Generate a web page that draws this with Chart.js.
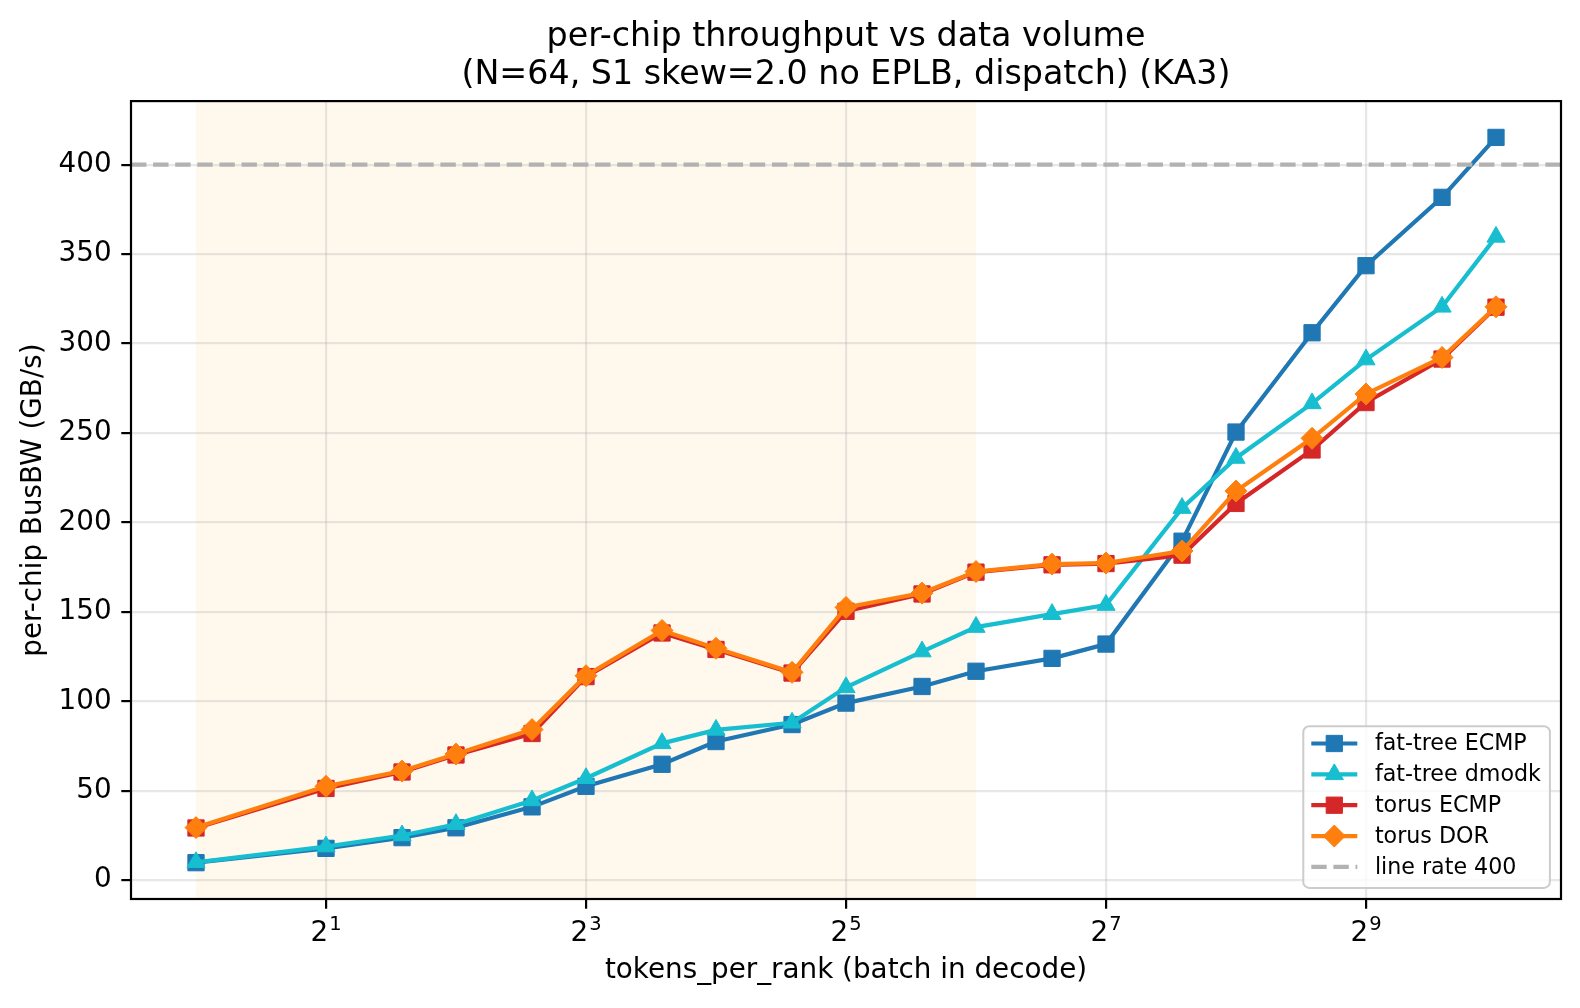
<!DOCTYPE html>
<html>
<head>
<meta charset="utf-8">
<script src="https://cdn.jsdelivr.net/npm/chart.js@4.4.0/dist/chart.umd.min.js"></script>
<style>
  html, body { margin: 0; padding: 0; background: #fff; }
  #wrap { width: 1580px; height: 1008px; }
</style>
</head>
<body>
<div id="wrap"><canvas id="throughputChart" width="1580" height="1008"></canvas></div>
<script>
// values
const tokensPerRank = [1, 2, 3, 4, 6, 8, 12, 16, 24, 32, 48, 64, 96, 128, 192, 256, 384, 512, 768, 1024];
const fatTreeEcmp = [9.8, 17.8, 23.8, 29.3, 41, 52.5, 64.8, 77.5, 87, 99, 108.3, 116.8, 124, 132, 189.5, 250.5, 306, 343.5, 381.7, 415.2];
const fatTreeDmodk = [10, 18.8, 25, 31.3, 44.6, 57, 76.5, 84, 88, 107.8, 127.8, 141.5, 148.7, 153.8, 208, 236, 266.5, 291, 320.5, 359.6];
const torusEcmp = [29.2, 51.3, 60.5, 70, 82, 113.8, 138.2, 129, 115.8, 150.3, 160, 172.2, 176.3, 177, 181.7, 210.6, 240.5, 267, 291.3, 320.3];
const torusDor = [29.4, 52.5, 61, 70.5, 84.2, 114.3, 139.6, 129.6, 116.2, 152.5, 160.5, 172.5, 176.7, 177.3, 184, 217.5, 247, 271.8, 292.2, 320.5];
const lineRate = 400;
const xTickPowers = [1, 3, 5, 7, 9];
const yTicks = [0, 50, 100, 150, 200, 250, 300, 350, 400];
const shadeRange = [1, 64];

const xMin = Math.pow(2, -0.5);
const xMax = Math.pow(2, 10.5);

const pts = (ys) => tokensPerRank.map((t, i) => ({ x: t, y: ys[i] }));

Chart.defaults.font.family = "'DejaVu Sans', sans-serif";
Chart.defaults.color = '#000';

const series = (label, color, ys, style, radius, order) => ({
    label: label,
    data: pts(ys),
    borderColor: color,
    backgroundColor: color,
    pointBackgroundColor: color,
    pointBorderColor: color,
    pointBorderWidth: 1,
    pointStyle: style,
    pointRadius: radius,
    borderWidth: 4.2,
    tension: 0,
    order: order
});

const datasets = [
    series('fat-tree ECMP', '#1f77b4', fatTreeEcmp, 'rect', 11.5, 3),
    series('fat-tree dmodk', '#17becf', fatTreeDmodk, 'triangle', 10.5, 2),
    series('torus ECMP', '#d62728', torusEcmp, 'rect', 11.5, 1),
    series('torus DOR', '#ff7f0e', torusDor, 'rectRot', 11, 0),
    {
        label: 'line rate ' + lineRate,
        data: [{ x: xMin, y: lineRate }, { x: xMax, y: lineRate }],
        borderColor: '#b2b2b2',
        borderWidth: 4.2,
        borderDash: [15.4, 6.7],
        pointRadius: 0,
        order: -1
    }
];

// shaded span behind the grid
const shadePlugin = {
    id: 'shade',
    beforeDraw(chart) {
        const { ctx, chartArea } = chart;
        const x = chart.scales.x;
        const x0 = x.getPixelForValue(shadeRange[0]);
        const x1 = x.getPixelForValue(shadeRange[1]);
        ctx.save();
        ctx.fillStyle = 'rgba(255, 165, 0, 0.07)';
        ctx.fillRect(x0, chartArea.top, x1 - x0, chartArea.bottom - chartArea.top);
        ctx.restore();
    }
};

// x tick labels as 2 with a raised exponent (like mathtext)
const powerLabelPlugin = {
    id: 'powerLabels',
    afterDraw(chart) {
        const { ctx, chartArea } = chart;
        const x = chart.scales.x;
        ctx.save();
        ctx.fillStyle = '#000';
        ctx.textBaseline = 'alphabetic';
        ctx.textAlign = 'left';
        x.ticks.forEach((t) => {
            const px = x.getPixelForValue(t.value);
            const exp = String(Math.round(Math.log2(t.value)));
            ctx.font = "27.8px 'DejaVu Sans'";
            const wBase = ctx.measureText('2').width;
            ctx.font = "19.5px 'DejaVu Sans'";
            const wExp = ctx.measureText(exp).width;
            const x0 = px - (wBase + 1 + wExp) / 2;
            ctx.font = "27.8px 'DejaVu Sans'";
            ctx.fillText('2', x0, chartArea.bottom + 42);
            ctx.font = "19.5px 'DejaVu Sans'";
            ctx.fillText(exp, x0 + wBase + 1, chartArea.bottom + 30.5);
        });
        ctx.restore();
    }
};

// axes frame + legend box in the lower right corner
const framePlugin = {
    id: 'frame',
    afterDraw(chart) {
        const { ctx, chartArea } = chart;
        ctx.save();
        ctx.strokeStyle = '#000';
        ctx.lineWidth = 2.2;
        ctx.strokeRect(chartArea.left, chartArea.top, chartArea.right - chartArea.left, chartArea.bottom - chartArea.top);

        const w = 246.6, h = 161.7;
        const bx = chartArea.right - 11.1 - w;
        const by = chartArea.bottom - 11.1 - h;
        ctx.beginPath();
        if (ctx.roundRect) ctx.roundRect(bx, by, w, h, 6); else ctx.rect(bx, by, w, h);
        ctx.fillStyle = 'rgba(255,255,255,0.8)';
        ctx.fill();
        ctx.strokeStyle = '#cccccc';
        ctx.lineWidth = 2;
        ctx.stroke();

        ctx.font = "22.2px 'DejaVu Sans'";
        ctx.textBaseline = 'middle';
        ctx.textAlign = 'left';
        chart.data.datasets.forEach((ds, i) => {
            const y = by + 17.3 + i * 30.85;
            ctx.save();
            ctx.strokeStyle = ds.borderColor;
            ctx.lineWidth = ds.borderWidth;
            ctx.setLineDash(ds.borderDash || []);
            ctx.beginPath();
            ctx.moveTo(bx + 8, y);
            ctx.lineTo(bx + 54, y);
            ctx.stroke();
            ctx.restore();
            if (ds.pointRadius > 0) {
                ctx.save();
                ctx.fillStyle = ds.pointBackgroundColor;
                ctx.strokeStyle = ds.pointBorderColor;
                ctx.lineWidth = ds.pointBorderWidth;
                Chart.helpers.drawPoint(ctx, { pointStyle: ds.pointStyle, radius: ds.pointRadius, rotation: 0, borderWidth: ds.pointBorderWidth }, bx + 31, y);
                ctx.restore();
            }
            ctx.fillStyle = '#000';
            ctx.fillText(ds.label, bx + 71.6, y + 1);
        });
        ctx.restore();
    }
};

const config = {
    type: 'line',
    data: { datasets: datasets },
    options: {
        responsive: false,
        animation: false,
        devicePixelRatio: 1,
        layout: { padding: { left: 0, right: 19, top: 0, bottom: 0 } },
        plugins: {
            legend: { display: false },
            tooltip: { enabled: false },
            title: {
                display: true,
                fullSize: false,
                text: ['per-chip throughput vs data volume', '(N=64, S1 skew=2.0 no EPLB, dispatch) (KA3)'],
                color: '#000',
                font: { size: 33.3, weight: 'normal', lineHeight: 1.15 },
                padding: { top: 18, bottom: 6.5 }
            }
        },
        scales: {
            x: {
                type: 'logarithmic',
                bounds: 'data',
                min: xMin,
                max: xMax,
                afterBuildTicks: (s) => { s.ticks = xTickPowers.map(p => ({ value: Math.pow(2, p) })); },
                afterFit: (s) => { s.height = 109; },
                ticks: {
                    display: false,
                    autoSkip: false,
                    maxRotation: 0
                },
                grid: {
                    color: 'rgba(176,176,176,0.3)',
                    lineWidth: 2.2,
                    tickColor: '#000',
                    tickWidth: 2.2,
                    tickLength: 9.7
                },
                border: { display: false },
                title: {
                    display: true,
                    text: 'tokens_per_rank (batch in decode)',
                    color: '#000',
                    font: { size: 27.8, lineHeight: 1.2 },
                    padding: { top: 0, bottom: 21 }
                }
            },
            y: {
                type: 'linear',
                bounds: 'data',
                min: -10.5,
                max: 435.5,
                afterBuildTicks: (s) => { s.ticks = yTicks.map(v => ({ value: v })); },
                afterFit: (s) => { s.width = 131; },
                ticks: {
                    padding: 9.7,
                    font: { size: 27.8 },
                    color: '#000'
                },
                grid: {
                    color: 'rgba(176,176,176,0.3)',
                    lineWidth: 2.2,
                    tickColor: '#000',
                    tickWidth: 2.2,
                    tickLength: 9.7
                },
                border: { display: false },
                title: {
                    display: true,
                    text: 'per-chip BusBW (GB/s)',
                    color: '#000',
                    font: { size: 27.8, lineHeight: 1.2 },
                    padding: { top: 17, bottom: 0 }
                }
            }
        }
    },
    plugins: [shadePlugin, powerLabelPlugin, framePlugin]
};

const myChart = new Chart(document.getElementById('throughputChart'), config);
</script>
</body>
</html>
